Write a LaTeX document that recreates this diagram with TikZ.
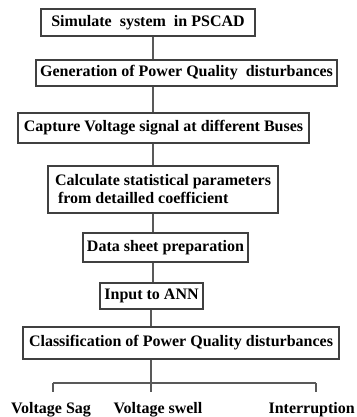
\documentclass[tikz,border=0pt]{standalone}
\usepackage{fontspec}
\setmainfont{Liberation Serif}
\begin{document}
\begin{tikzpicture}[x=1pt,y=-1pt,
  box/.style={draw=black!75, line width=1.3pt, inner sep=0pt, align=center,
    font=\fontsize{16}{18}\selectfont\bfseries},
  conn/.style={draw=black!65, line width=1.2pt},
  lab/.style={inner sep=0pt, anchor=base, font=\fontsize{16}{18}\selectfont\bfseries}]
\useasboundingbox (0,0) rectangle (356,417);
\node[box, minimum width=214pt, minimum height=27pt] (b1) at (148,22.5) {Simulate\ \ system\ \ in PSCAD};
\node[box, minimum width=301pt, minimum height=26pt] (b2) at (186.5,73) {Generation of Power Quality\ \ disturbances};
\node[box, minimum width=291pt, minimum height=30pt] (b3) at (163.5,128) {Capture Voltage signal at different Buses};
\node[box, minimum width=230pt, minimum height=47pt, align=left] (b4) at (163,189.5) {Calculate statistical parameters\\\hspace{3pt}from detailled coefficient};
\node[box, minimum width=165pt, minimum height=29pt] (b5) at (165.5,247.5) {Data sheet preparation};
\node[box, minimum width=103pt, minimum height=26pt] (b6) at (151.5,296) {Input to ANN};
\node[box, minimum width=316pt, minimum height=32pt] (b7) at (181,343) {Classification of Power Quality disturbances};
\coordinate (sp) at (153,0);
\draw[conn] (b1.south -| sp) -- (b2.north -| sp);
\draw[conn] (b2.south -| sp) -- (b3.north -| sp);
\draw[conn] (b3.south -| sp) -- (b4.north -| sp);
\draw[conn] (b4.south -| sp) -- (b5.north -| sp);
\draw[conn] (b5.south -| sp) -- (b6.north -| sp);
\coordinate (sp2) at (151,0);
\draw[conn] (b6.south -| sp2) -- (b7.north -| sp2);
\node[lab] (l1) at (51,413) {Voltage Sag};
\node[lab] (l2) at (158,413) {Voltage swell};
\node[lab, anchor=base east] (l3) at (355,413) {Interruption};
\coordinate (hl) at (53,383);
\coordinate (hr) at (316,383);
\coordinate (hmb) at (151,392);
\draw[conn] (b7.south -| hmb) -- (hmb);
\draw[conn] (hl) -- (hr);
\draw[conn] (hl) -- ++(0,9);
\draw[conn] (hr) -- ++(0,9);
\end{tikzpicture}
\end{document}
